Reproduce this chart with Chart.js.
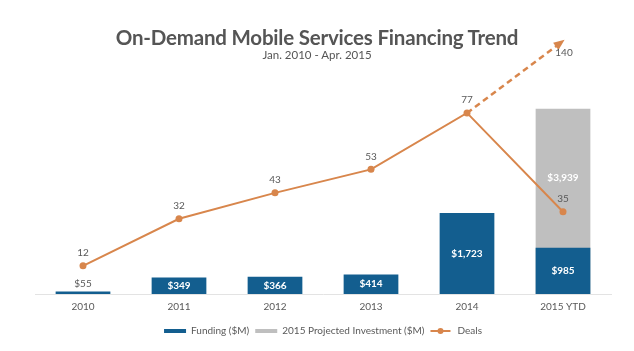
<!DOCTYPE html>
<html>
<head>
<meta charset="utf-8">
<script src="https://cdn.jsdelivr.net/npm/chart.js@4"></script>
<style>
  html, body { margin: 0; padding: 0; background: #fff; }
  #wrap { position: relative; width: 634px; height: 351px; }
  #chart { position: absolute; left: 0; top: 0; }
  .title { position: absolute; left: 0; width: 634px; text-align: center; font-family: Lato, "Open Sans", sans-serif; color: #555555; }
  #t1 { top: 26px; font-size: 20.5px; line-height: 22px; font-weight: 700; letter-spacing: -0.2px; }
  #t2 { top: 48px; font-size: 11.5px; line-height: 14px; }
</style>
</head>
<body>
<div id="wrap">
  <canvas id="chart" width="634" height="351"></canvas>
  <div class="title" id="t1">On-Demand Mobile Services Financing Trend</div>
  <div class="title" id="t2">Jan. 2010 - Apr. 2015</div>
</div>
<script>
const categories = ['2010', '2011', '2012', '2013', '2014', '2015 YTD'];
const funding = [55, 349, 366, 414, 1723, 985];
const projectedInvestment = [null, null, null, null, null, 3939];
const deals = [12, 32, 43, 53, 77, 35];
const dealsProjected = [null, null, null, null, 77, 140];

const BLUE = '#135E8F';
const GREY = '#BFBFBF';
const ORANGE = '#D8864C';
const TEXT = '#595959';
const FONT = 'Lato, "Open Sans", sans-serif';

function money(v) { return '$' + v.toLocaleString('en-US'); }

const labelPlugin = {
  id: 'labels',
  afterDatasetsDraw(chart) {
    const ctx = chart.ctx;
    ctx.save();
    ctx.textAlign = 'center';
    ctx.textBaseline = 'middle';
    const fMeta = chart.getDatasetMeta(0);
    fMeta.data.forEach((bar, i) => {
      const v = funding[i];
      if (v == null) return;
      const h = bar.base - bar.y;
      if (h < 12) {
        ctx.fillStyle = TEXT;
        ctx.font = '10px ' + FONT;
        ctx.fillText(money(v), bar.x, bar.y - 8);
      } else {
        ctx.fillStyle = '#ffffff';
        ctx.font = 'bold 10px ' + FONT;
        ctx.fillText(money(v), bar.x, (bar.y + bar.base) / 2);
      }
    });
    const pMeta = chart.getDatasetMeta(1);
    pMeta.data.forEach((bar, i) => {
      const v = projectedInvestment[i];
      if (v == null) return;
      const lower = fMeta.data[i].y;
      ctx.fillStyle = '#ffffff';
      ctx.font = 'bold 10px ' + FONT;
      ctx.fillText(money(v), bar.x, (bar.y + lower) / 2);
    });
    const dMeta = chart.getDatasetMeta(2);
    ctx.fillStyle = TEXT;
    ctx.font = '10px ' + FONT;
    dMeta.data.forEach((pt, i) => {
      if (deals[i] == null) return;
      ctx.fillText(String(deals[i]), pt.x, pt.y - 13);
    });
    const prMeta = chart.getDatasetMeta(3);
    const pts = prMeta.data.filter((p, i) => dealsProjected[i] != null);
    if (pts.length >= 2) {
      const a = pts[pts.length - 2], b = pts[pts.length - 1];
      const ang = Math.atan2(b.y - a.y, b.x - a.x);
      const L = 9, W = 4.5;
      ctx.fillStyle = ORANGE;
      ctx.beginPath();
      ctx.moveTo(b.x + Math.cos(ang) * 2, b.y + Math.sin(ang) * 2);
      ctx.lineTo(b.x - Math.cos(ang) * L - Math.sin(ang) * W, b.y - Math.sin(ang) * L + Math.cos(ang) * W);
      ctx.lineTo(b.x - Math.cos(ang) * L + Math.sin(ang) * W, b.y - Math.sin(ang) * L - Math.cos(ang) * W);
      ctx.closePath();
      ctx.fill();
      ctx.fillStyle = TEXT;
      ctx.font = '10px ' + FONT;
      const last = dealsProjected[dealsProjected.length - 1];
      ctx.fillText(String(last), b.x + 1, b.y + 12);
    }
    ctx.restore();
  },
  afterDraw(chart) {
    const lg = chart.legend;
    if (!lg || !lg.legendHitBoxes) return;
    const idx = lg.legendItems.findIndex(it => it.text === 'Deals');
    if (idx < 0) return;
    const box = lg.legendHitBoxes[idx];
    const ctx = chart.ctx;
    const cy = box.top + box.height / 2;
    ctx.save();
    ctx.strokeStyle = ORANGE;
    ctx.fillStyle = ORANGE;
    ctx.lineWidth = 2;
    ctx.beginPath();
    ctx.moveTo(box.left, cy);
    ctx.lineTo(box.left + 20, cy);
    ctx.stroke();
    ctx.beginPath();
    ctx.arc(box.left + 10, cy, 3, 0, Math.PI * 2);
    ctx.fill();
    ctx.restore();
  }
};

new Chart(document.getElementById('chart'), {
  type: 'bar',
  data: {
    labels: categories,
    datasets: [
      {
        label: 'Funding ($M)', data: funding, backgroundColor: BLUE,
        yAxisID: 'y', grouped: false, order: 1,
        barPercentage: 0.57, categoryPercentage: 1
      },
      {
        label: '2015 Projected Investment ($M)', data: projectedInvestment, backgroundColor: GREY,
        yAxisID: 'y', grouped: false, order: 2,
        barPercentage: 0.57, categoryPercentage: 1
      },
      {
        type: 'line', label: 'Deals', data: deals, yAxisID: 'yDeals', order: 0,
        borderColor: ORANGE, backgroundColor: ORANGE, borderWidth: 2,
        pointRadius: 3.5, pointBackgroundColor: ORANGE, pointBorderWidth: 0, tension: 0
      },
      {
        type: 'line', label: 'Deals projection', data: dealsProjected, yAxisID: 'yProj', order: 0,
        borderColor: ORANGE, borderWidth: 2.5, borderDash: [6, 4], pointRadius: 0,
        spanGaps: false, tension: 0, clip: false
      }
    ]
  },
  options: {
    responsive: false,
    animation: false,
    devicePixelRatio: 1,
    layout: { padding: { left: 35, right: 23, top: 40, bottom: 5 } },
    scales: {
      x: {
        grid: { display: false, drawTicks: false },
        border: { display: true, color: '#E3E3E3', width: 1 },
        ticks: { color: TEXT, font: { family: FONT, size: 10 }, padding: 7 }
      },
      y: { display: false, min: 0, max: 5400 },
      yDeals: { display: false, min: 0, max: 108 },
      yProj: { display: false, min: -81.4, max: 140.9 }
    },
    plugins: {
      tooltip: { enabled: false },
      legend: {
        position: 'bottom',
        labels: {
          font: { family: FONT, size: 10 },
          color: TEXT,
          boxWidth: 22,
          boxHeight: 4,
          padding: 6,
          generateLabels() {
            return [
              { text: 'Funding ($M)', fillStyle: BLUE, strokeStyle: BLUE, lineWidth: 0, fontColor: TEXT, datasetIndex: 0 },
              { text: '2015 Projected Investment ($M)', fillStyle: GREY, strokeStyle: GREY, lineWidth: 0, fontColor: TEXT, datasetIndex: 1 },
              { text: 'Deals', fillStyle: 'rgba(0,0,0,0)', strokeStyle: 'rgba(0,0,0,0)', lineWidth: 0, fontColor: TEXT, datasetIndex: 2 }
            ];
          }
        }
      }
    }
  },
  plugins: [labelPlugin]
});
</script>
</body>
</html>
